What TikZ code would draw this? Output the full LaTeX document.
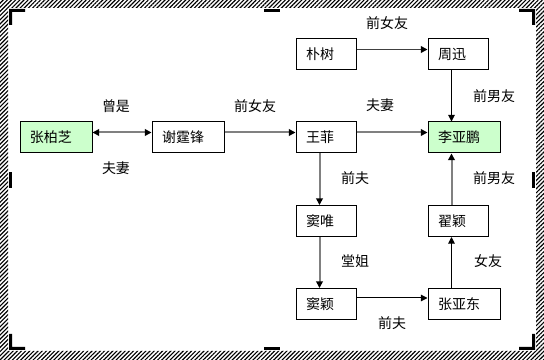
\documentclass[tikz,border=0pt]{standalone}
\usepackage{fontspec}
\setmainfont{Noto Sans CJK SC}
\usetikzlibrary{arrows.meta,patterns.meta,calc}
\definecolor{lg}{HTML}{CCFFCC}
\definecolor{lgray}{HTML}{808080}
\definecolor{dgray}{HTML}{404040}
\begin{document}
\begin{tikzpicture}[x=0.75pt,y=-0.75pt,
  box/.style={draw=black, line width=0.75pt, rectangle, minimum height=23.25pt,
    inner xsep=7.5pt, inner ysep=0pt, align=left, font=\fontsize{10.5pt}{12pt}\selectfont},
  btwo/.style={box, text width=30pt},
  bthree/.style={box, text width=39pt},
  lbl/.style={inner sep=0pt, font=\fontsize{10.5pt}{12pt}\selectfont},
  tip/.tip={Triangle[length=5pt,width=5pt,color=black,fill=black]},
  gl/.style={draw=lgray, line width=1.5pt, -tip},
  dl/.style={draw=dgray, line width=1.3pt, -tip},
  bl/.style={draw=black, line width=0.75pt, -tip},
  handle/.style={fill=black}
]
\useasboundingbox (0,0) rectangle (544,360);
\fill[white] (0,0) rectangle (544,360);
% hatched frame
\path[pattern={Lines[angle=45,distance=2.2pt,line width=0.85pt]}, pattern color=black, even odd rule]
  (0,0) rectangle (544,360) (8,8) rectangle (536,351);
% corner and side handles
\fill[handle] (9,9) -- (25,9) -- (25,12) -- (12,12) -- (12,25) -- (9,25) -- cycle;
\fill[handle] (535,9) -- (519,9) -- (519,12) -- (532,12) -- (532,25) -- (535,25) -- cycle;
\fill[handle] (9,350) -- (25,350) -- (25,347) -- (12,347) -- (12,334) -- (9,334) -- cycle;
\fill[handle] (535,350) -- (519,350) -- (519,347) -- (532,347) -- (532,334) -- (535,334) -- cycle;
\fill[handle] (264,9) rectangle (280,12);
\fill[handle] (264,347) rectangle (280,350);
\fill[handle] (9,172) rectangle (12,188);
\fill[handle] (532,172) rectangle (535,188);

% nodes
\node[bthree, fill=lg] (zbz) at (56,137.5) {张柏芝};
\node[bthree] (xtf) at (188,137.5) {谢霆锋};
\node[btwo] (wf) at (326,137.5) {王菲};
\node[bthree, fill=lg] (lyp) at (464,137.5) {李亚鹏};
\node[btwo] (ps) at (326,54.5) {朴树};
\node[btwo] (zx) at (458,54.5) {周迅};
\node[btwo] (dw) at (326,221) {窦唯};
\node[btwo] (zy) at (458,221) {翟颖};
\node[btwo] (dy) at (326,304) {窦颖};
\node[bthree] (zyd) at (464,304) {张亚东};

% connectors
\draw[gl, tip-tip] ($(zbz.north east)+(0,11)$) -- ($(xtf.north west)+(0,11)$);
\draw[gl] ($(xtf.north east)+(0,11)$) -- ($(wf.north west)+(0,11)$);
\draw[gl] ($(wf.north east)+(0,11)$) -- ($(lyp.north west)+(0,11)$);
\draw[dl] ($(ps.north east)+(0,11)$) -- ($(zx.north west)+(0,11)$);
\draw[bl] ($(zx.south west)+(24,0)$) -- ($(lyp.north west)+(24,0)$);
\draw[gl] ($(wf.south west)+(24,0)$) -- ($(dw.north west)+(24,0)$);
\draw[gl] ($(dw.south west)+(24,0)$) -- ($(dy.north west)+(24,0)$);
\draw[bl] ($(dy.north east)+(0,10)$) -- ($(zyd.north west)+(0,10)$);
\draw[bl] ($(zyd.north west)+(24,0)$) -- ($(zy.south west)+(24,0)$);
\draw[gl] ($(zy.north west)+(24,0)$) -- ($(lyp.south west)+(24,0)$);

% labels
\node[lbl] (l1) at (116,106) {曾是};
\node[lbl] (l2) at (116,168) {夫妻};
\node[lbl] (l3) at (255,106) {前女友};
\node[lbl] (l4) at (380,105) {夫妻};
\node[lbl] (l5) at (387,23) {前女友};
\node[lbl] (l6) at (494,96) {前男友};
\node[lbl] (l7) at (355,178) {前夫};
\node[lbl] (l8) at (494,178) {前男友};
\node[lbl] (l9) at (355,261) {堂姐};
\node[lbl] (l10) at (488,261) {女友};
\node[lbl] (l11) at (392,323) {前夫};
\end{tikzpicture}
\end{document}
